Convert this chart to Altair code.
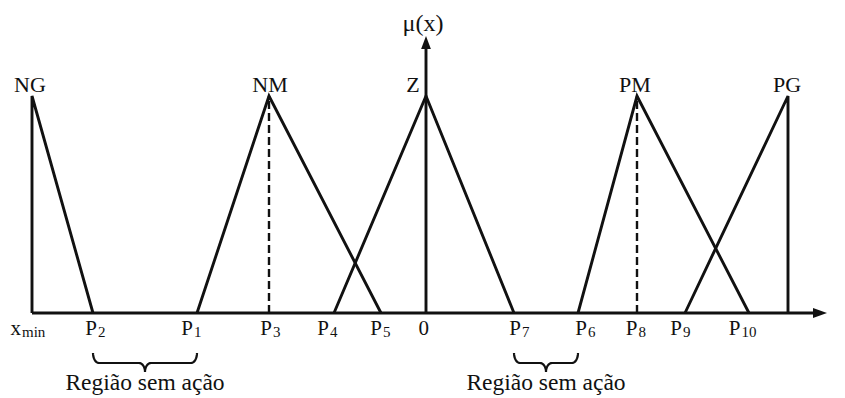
import altair as alt
import pandas as pd
import numpy as np

# ---- data (arbitrary abscissa units, origin at "0") ----
point_names = ["xmin", "P2", "P1", "P3", "P4", "P5", "0", "P7", "P6", "P8", "P9", "P10", "xmax"]
point_x = [-3.94, -3.33, -2.29, -1.57, -0.92, -0.45, 0.0, 0.88, 1.52, 2.11, 2.59, 3.23, 3.62]
P = dict(zip(point_names, point_x))

set_names = ["NG", "NM", "Z", "PM", "PG"]
set_points = [["xmin", "xmin", "P2"], ["P1", "P3", "P5"], ["P4", "0", "P7"],
              ["P6", "P8", "P10"], ["P9", "xmax", "xmax"]]
set_mu = [[0, 1, 0], [0, 1, 0], [0, 1, 0], [0, 1, 0], [0, 1, 0]]
set_label_x = [-3.96, -1.56, -0.13, 2.09, 3.61]

dashed_at = ["P3", "P8"]

tick_main = ["x", "P", "P", "P", "P", "P", "0", "P", "P", "P", "P", "P"]
tick_sub = ["min", "2", "1", "3", "4", "5", "", "7", "6", "8", "9", "10"]
tick_label_x = [-4.05, -3.29, -2.33, -1.54, -0.97, -0.44, 0.03, 0.95, 1.61, 2.115, 2.56, 3.145]

region_from = ["P2", "P7"]
region_to = ["P1", "P6"]
region_text = "Região sem ação"

X_DOMAIN = [-4.18, 4.11]
Y_DOMAIN = [-0.39171, 1.40553]
INK = "#111111"
FONT = "Liberation Serif"

# ---- tables ----
tri_rows = []
for name, pts, mus in zip(set_names, set_points, set_mu):
    for i, (p, m) in enumerate(zip(pts, mus)):
        tri_rows.append({"set": name, "order": i, "x": P[p], "mu": m})
tri_df = pd.DataFrame(tri_rows)

dash_df = pd.DataFrame({"x": [P[d] for d in dashed_at], "mu": [0, 0], "mu_end": [1, 1]})
hax_df = pd.DataFrame({"x": [P["xmin"]], "x_end": [3.94], "mu": [0]})
vax_df = pd.DataFrame({"x": [0.0], "mu": [0], "mu_end": [1.24]})
harrow_df = pd.DataFrame({"x": [3.94], "mu": [0]})
varrow_df = pd.DataFrame({"x": [0.0], "mu": [1.2466]})

setlab_df = pd.DataFrame({"x": set_label_x, "mu": [1.05] * 5, "label": set_names})
tick_df = pd.DataFrame({"x": tick_label_x, "mu": [-0.1014] * len(tick_main),
                        "main": tick_main, "sub": tick_sub})

# braces (shape built around the region end points)
YPX = 0.0046083  # mu units per pixel
brace_rows = []
brace_top = -0.1843
for bi, (a, b) in enumerate(zip(region_from, region_to)):
    x0, x1 = P[a], P[b]
    xc = (x0 + x1) / 2
    rx, ry1, ry2 = 0.06, 10 * YPX, 9 * YPX
    mid = brace_top - ry1
    t = np.linspace(0, 1, 12)
    left = []
    for tt in t:
        left.append((x0 + rx * (1 - np.cos(tt * np.pi / 2)), brace_top - ry1 * np.sin(tt * np.pi / 2)))
    for tt in t:
        left.append((xc - rx + rx * np.sin(tt * np.pi / 2), mid - ry2 * (1 - np.cos(tt * np.pi / 2))))
    right = [(2 * xc - xx, yy) for xx, yy in reversed(left)]
    for k, (xx, yy) in enumerate(left + right):
        brace_rows.append({"brace": bi, "order": k, "x": xx, "mu": yy})
brace_df = pd.DataFrame(brace_rows)
region_df = pd.DataFrame({"x": [(P[a] + P[b]) / 2 for a, b in zip(region_from, region_to)],
                          "mu": [-0.3548, -0.3548], "label": [region_text, region_text]})
mu_df = pd.DataFrame({"x": [-0.03], "mu": [1.332], "label": ["μ(x)"]})

xs = alt.Scale(domain=X_DOMAIN, nice=False, zero=False)
ys = alt.Scale(domain=Y_DOMAIN, nice=False, zero=False)
X = lambda f="x": alt.X(f"{f}:Q", scale=xs, axis=None)
Y = lambda f="mu": alt.Y(f"{f}:Q", scale=ys, axis=None)

tri = alt.Chart(tri_df).mark_line(color=INK, strokeWidth=2.9, strokeJoin="miter").encode(
    x=X(), y=Y(), detail="set:N", order="order:Q")
dashes = alt.Chart(dash_df).mark_rule(color=INK, strokeWidth=2.4, strokeDash=[8, 4]).encode(
    x=X(), y=Y(), y2="mu_end:Q")
hax = alt.Chart(hax_df).mark_rule(color=INK, strokeWidth=2.9).encode(x=X(), x2="x_end:Q", y=Y())
vax = alt.Chart(vax_df).mark_rule(color=INK, strokeWidth=2.9).encode(x=X(), y=Y(), y2="mu_end:Q")
harrow = alt.Chart(harrow_df).mark_point(shape="M1,0L-1,-0.71L-1,0.71Z", filled=True, size=196,
                                         color=INK, opacity=1).encode(x=X(), y=Y())
varrow = alt.Chart(varrow_df).mark_point(shape="M0,-1L0.75,1L-0.75,1Z", filled=True, size=169,
                                         color=INK, opacity=1).encode(x=X(), y=Y())
setlab = alt.Chart(setlab_df).mark_text(font=FONT, fontSize=22, color=INK, baseline="middle",
                                        align="center").encode(x=X(), y=Y(), text="label:N")
tick_main_l = alt.Chart(tick_df).mark_text(font=FONT, fontSize=21, color=INK, baseline="alphabetic",
                                           align="right").encode(x=X(), y=Y(), text="main:N")
tick_sub_l = alt.Chart(tick_df).mark_text(font=FONT, fontSize=15, color=INK, baseline="alphabetic",
                                          align="left", dx=1, dy=2).encode(x=X(), y=Y(), text="sub:N")
braces = alt.Chart(brace_df).mark_line(color=INK, strokeWidth=2.2).encode(
    x=X(), y=Y(), detail="brace:N", order="order:Q")
region = alt.Chart(region_df).mark_text(font=FONT, fontSize=23.5, color=INK, baseline="alphabetic",
                                        align="center").encode(x=X(), y=Y(), text="label:N")
mulab = alt.Chart(mu_df).mark_text(font=FONT, fontSize=24, color=INK, baseline="middle",
                                   align="center").encode(x=X(), y=Y(), text="label:N")

chart = alt.layer(tri, dashes, hax, vax, harrow, varrow, setlab, tick_main_l, tick_sub_l,
                  braces, region, mulab).properties(
    width=829, height=390, autosize=alt.AutoSizeParams(type="none"), padding=0,
    background="white"
).configure_view(stroke=None)

chart.save("out.html", embed_options={"renderer": "svg", "actions": False})
